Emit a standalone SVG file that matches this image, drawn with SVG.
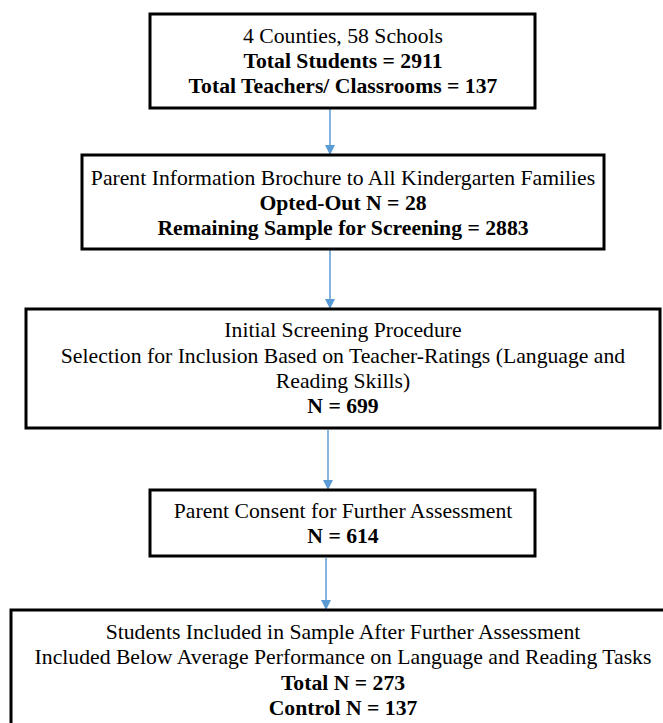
<svg xmlns="http://www.w3.org/2000/svg" width="663" height="723" viewBox="0 0 663 723">
<style>
.box{fill:#fff;stroke:#000;stroke-width:3}
.t{font-family:"Liberation Serif","Times New Roman",serif;font-size:21.7px;fill:#000;text-anchor:middle}
.b{font-weight:bold}
.c{stroke:#5B9BD5;stroke-width:1.5;fill:none}
</style>
<defs>
<marker id="ah" markerWidth="10" markerHeight="10" refX="9" refY="5" orient="auto" markerUnits="userSpaceOnUse">
<path d="M0,0 L10,5 L0,10 Z" fill="#5B9BD5"/>
</marker>
</defs>
<rect width="663" height="723" fill="#fff"/>
<g id="connectors">
<line class="c" x1="330" y1="109" x2="330" y2="154" marker-end="url(#ah)"/>
<line class="c" x1="330" y1="250" x2="330" y2="308" marker-end="url(#ah)"/>
<line class="c" x1="328" y1="430" x2="328" y2="489" marker-end="url(#ah)"/>
<line class="c" x1="326" y1="558" x2="326" y2="609" marker-end="url(#ah)"/>
</g>
<g id="n1">
<rect class="box" x="150" y="14" width="385" height="94"/>
<text class="t" x="343" y="43">4 Counties, 58 Schools</text>
<text class="t b" x="343" y="68">Total Students = 2911</text>
<text class="t b" x="343" y="93">Total Teachers/ Classrooms = 137</text>
</g>
<g id="n2">
<rect class="box" x="82" y="155" width="522" height="94"/>
<text class="t" x="343" y="185">Parent Information Brochure to All Kindergarten Families</text>
<text class="t b" x="343" y="210">Opted-Out N = 28</text>
<text class="t b" x="343" y="235">Remaining Sample for Screening = 2883</text>
</g>
<g id="n3">
<rect class="box" x="26" y="309" width="634" height="119"/>
<text class="t" x="343" y="337">Initial Screening Procedure</text>
<text class="t" x="343" y="363">Selection for Inclusion Based on Teacher-Ratings (Language and</text>
<text class="t" x="343" y="388">Reading Skills)</text>
<text class="t b" x="343" y="413">N = 699</text>
</g>
<g id="n4">
<rect class="box" x="150" y="490" width="385" height="66"/>
<text class="t" x="343" y="518">Parent Consent for Further Assessment</text>
<text class="t b" x="343" y="543">N = 614</text>
</g>
<g id="n5">
<rect class="box" x="11" y="610" width="664" height="130"/>
<text class="t" x="343" y="639">Students Included in Sample After Further Assessment</text>
<text class="t" x="343" y="664">Included Below Average Performance on Language and Reading Tasks</text>
<text class="t b" x="343" y="690">Total N = 273</text>
<text class="t b" x="343" y="715">Control N = 137</text>
</g>
</svg>
